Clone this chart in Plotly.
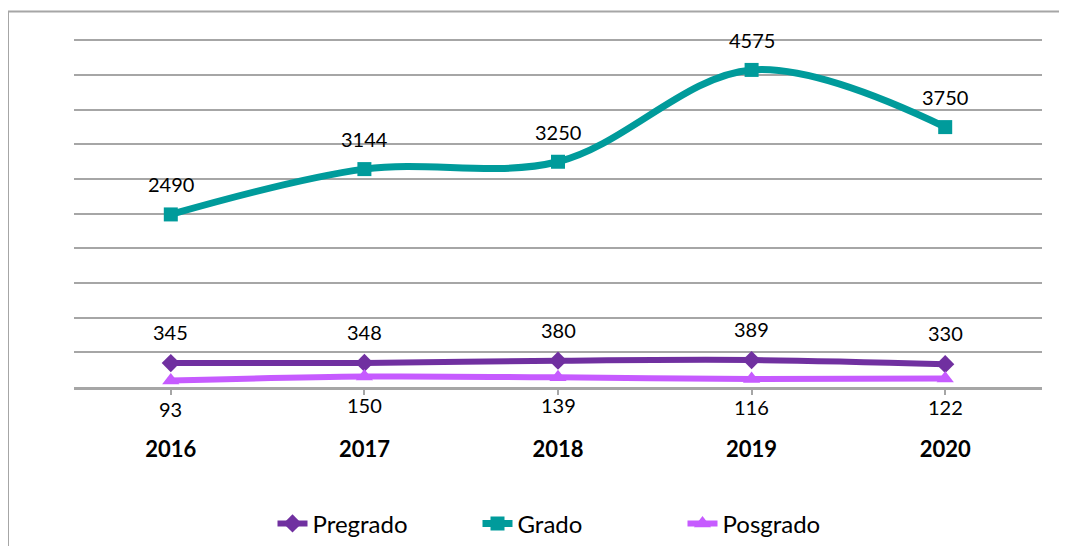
import plotly.graph_objects as go

years = ["2016", "2017", "2018", "2019", "2020"]
pregrado = [345, 348, 380, 389, 330]
grado = [2490, 3144, 3250, 4575, 3750]
posgrado = [93, 150, 139, 116, 122]

FONT = "Lato"
C_PRE = "#7030A0"
C_GRA = "#009B9B"
C_POS = "#C65BFF"

fig = go.Figure()
fig.add_trace(go.Scatter(x=years, y=pregrado, name="Pregrado", mode="lines+markers",
                         line=dict(color=C_PRE, width=6, shape="spline"),
                         marker=dict(symbol="diamond", size=14, color=C_PRE)))
fig.add_trace(go.Scatter(x=years, y=grado, name="Grado", mode="lines+markers",
                         line=dict(color=C_GRA, width=7, shape="spline", smoothing=1),
                         marker=dict(symbol="square", size=14, color=C_GRA)))
fig.add_trace(go.Scatter(x=years, y=posgrado, name="Posgrado", mode="lines+markers",
                         line=dict(color=C_POS, width=6, shape="spline"),
                         marker=dict(symbol="triangle-up", size=15, color=C_POS)))

annotations = []
for series, shift in ((grado, 30), (pregrado, 31), (posgrado, -28)):
    for i, v in enumerate(series):
        annotations.append(dict(x=i, y=v, xref="x", yref="y", text=str(v), showarrow=False,
                                yshift=shift,
                                font=dict(size=20, color="#000000", family=FONT)))

# page is offset by 8px (body margin), so target pixel positions are shifted
OFF = 8
W, H = 1067, 546
YMAX = 5050
L, R, T, B = 74 - OFF, 25 + OFF, 40 - OFF - 3.5, 159 + OFF
pw = W - L - R
ph = H - T - B

def px_x(p):
    return (p - OFF - L) / pw

def px_y(p):
    return (H - B - (p - OFF)) / ph

shapes = [
    dict(type="line", xref="paper", yref="paper", x0=px_x(8), x1=px_x(8), y0=px_y(560), y1=px_y(11),
         line=dict(color="#A6A6A6", width=2)),
    dict(type="line", xref="paper", yref="paper", x0=px_x(8), x1=px_x(1080), y0=px_y(11), y1=px_y(11),
         line=dict(color="#A6A6A6", width=2)),
]

fig.update_layout(
    width=W, height=H,
    margin=dict(l=L, r=R, t=T, b=B, autoexpand=False),
    paper_bgcolor="white", plot_bgcolor="white",
    font=dict(family=FONT, color="#000000"),
    showlegend=True,
    legend=dict(orientation="h", x=px_x(580), xanchor="center", y=px_y(524), yanchor="middle",
                font=dict(size=24, family=FONT), entrywidth=160, traceorder="normal"),
    annotations=annotations,
    shapes=shapes,
    xaxis=dict(range=[-0.5, 4.5], showgrid=False, showline=True, linecolor="#A6A6A6", linewidth=3,
               ticks="outside", ticklen=5, tickcolor="#A6A6A6", tickwidth=2,
               tickfont=dict(size=22, family=FONT, color="#000000", weight="bold"),
               ticklabelstandoff=36, zeroline=False, fixedrange=True),
    yaxis=dict(range=[0, YMAX], tick0=0, dtick=500, showgrid=True, gridcolor="#A6A6A6", gridwidth=1.5,
               showticklabels=False, zeroline=False, showline=False, fixedrange=True),
)

fig.write_html("out.html")
